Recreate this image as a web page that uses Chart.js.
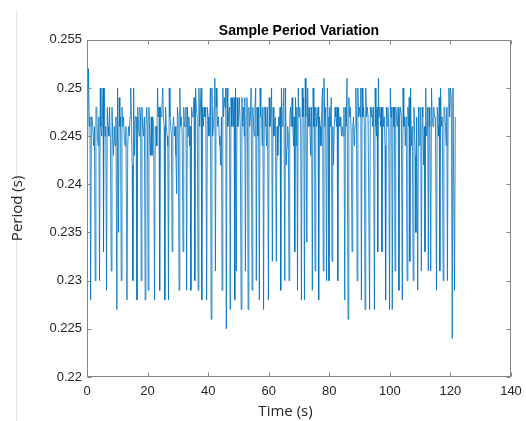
<!DOCTYPE html>
<html>
<head>
<meta charset="utf-8">
<script src="https://cdn.jsdelivr.net/npm/chart.js@4.4.1/dist/chart.umd.min.js"></script>
<style>
  html, body { margin: 0; padding: 0; background: #fff; }
  #wrap { width: 526px; height: 421px; }
</style>
</head>
<body>
<div id="wrap"><canvas id="chart" width="526" height="421"></canvas></div>
<script>
// Sample times (s)
const time = [
  0.25, 0.50, 0.75, 0.98,
  1.20, 1.45, 1.70, 1.95, 2.20, 2.45,
  2.70, 2.95, 3.20, 3.45, 3.70, 3.92,
  4.13, 4.38, 4.62, 4.86, 5.10, 5.30,
  5.45, 5.70, 5.95, 6.20,
  6.45, 6.70, 6.95, 7.20, 7.45, 7.75,
  8.00, 8.25, 8.50, 8.75, 9.00, 9.25, 9.55,
  9.86, 10.10,
  10.40, 10.62, 10.85, 11.08,
  11.30, 11.55, 11.80, 12.05, 12.30, 12.55, 12.85,
  13.20, 13.45, 13.70, 13.95, 14.20, 14.45, 14.70, 14.92,
  15.15, 15.40, 15.65, 15.90, 16.20,
  16.50, 16.75, 17.00, 17.25, 17.45, 17.68,
  17.90, 18.15, 18.40, 18.65, 18.95,
  19.20, 19.45, 19.72, 19.95,
  20.20, 20.45, 20.70, 20.95, 21.20, 21.45, 21.70, 22.00,
  22.30, 22.55, 22.80, 23.05, 23.30, 23.55, 23.78,
  24.00, 24.25, 24.50, 24.75, 25.00, 25.25, 25.48,
  25.70, 25.95, 26.20, 26.45, 26.68,
  26.90, 27.15, 27.40, 27.65, 27.88,
  28.10, 28.35, 28.60, 28.85, 29.10, 29.35,
  29.60, 29.85, 30.12,
  30.40, 30.65, 30.90, 31.15, 31.45,
  31.70, 31.95, 32.20, 32.45, 32.68,
  32.90, 33.15, 33.40, 33.65, 33.85, 34.05,
  34.30, 34.55, 34.80, 35.05, 35.35,
  35.60, 35.85, 36.10, 36.40,
  36.70, 36.95, 37.20, 37.45, 37.68,
  37.90, 38.15, 38.40, 38.65, 38.90, 39.20,
  39.50, 39.75, 40.00, 40.25, 40.50, 40.75,
  41.00, 41.25, 41.50, 41.75, 42.00, 42.20,
  42.40, 42.65, 42.90, 43.15, 43.40, 43.65, 43.90, 44.15, 44.40,
  44.60, 44.85, 45.10, 45.35, 45.60, 45.80,
  46.00, 46.25, 46.50, 46.75, 47.05,
  47.30, 47.55, 47.80, 48.05, 48.30, 48.55,
  48.80, 49.05,
  49.30, 49.55, 49.80, 50.05, 50.30, 50.60,
  50.90, 51.15, 51.40, 51.65, 51.90, 52.10,
  52.30, 52.55, 52.80, 53.00,
  53.20, 53.45, 53.70, 53.95, 54.20,
  54.50, 54.75, 55.00, 55.25, 55.45, 55.70,
  55.90, 56.15, 56.40, 56.65,
  56.90, 57.15, 57.40, 57.65, 57.85, 58.05,
  58.30, 58.55, 58.80, 59.05, 59.30, 59.60,
  59.90, 60.15, 60.40, 60.65, 60.95,
  61.20, 61.45, 61.70, 61.95, 62.20,
  62.50, 62.75, 63.00, 63.25, 63.50, 63.75,
  63.97, 64.20, 64.45, 64.70, 65.00,
  65.30, 65.55, 65.80, 66.05, 66.25, 66.48,
  66.70, 66.95, 67.20, 67.45, 67.70, 67.95, 68.20, 68.40,
  68.60, 68.85, 69.10, 69.30,
  69.50, 69.75, 70.00, 70.25, 70.55,
  70.80, 71.05, 71.30, 71.55,
  71.80, 72.05, 72.30,
  72.60, 72.85, 73.10, 73.35, 73.60, 73.85, 74.15,
  74.40, 74.65, 74.90, 75.10,
  75.30, 75.55, 75.80, 76.05, 76.30,
  76.50, 76.75, 77.00, 77.25, 77.50, 77.78,
  78.00, 78.25, 78.50, 78.80,
  79.10, 79.35, 79.60,
  79.90, 80.15, 80.40, 80.65,
  80.90, 81.15, 81.40, 81.65, 81.90, 82.15, 82.40, 82.60,
  82.80, 83.05, 83.30, 83.55, 83.80, 84.05, 84.30, 84.55, 84.85,
  85.10, 85.35, 85.60, 85.85,
  86.20, 86.45, 86.70, 86.95, 87.25,
  87.50, 87.75, 88.00, 88.25, 88.50, 88.75, 88.98,
  89.20, 89.45, 89.70, 89.95, 90.20, 90.40,
  90.60, 90.85, 91.10, 91.35, 91.58,
  91.80, 92.05, 92.30, 92.55, 92.80, 93.05,
  93.30, 93.55, 93.80, 94.05, 94.30, 94.60,
  94.90, 95.15, 95.40, 95.60, 95.80,
  96.00, 96.20, 96.45, 96.70, 96.95, 97.20,
  97.40, 97.65, 97.90, 98.15, 98.40,
  98.60, 98.85, 99.10, 99.35, 99.62,
  99.90, 100.15, 100.40, 100.60,
  100.80, 101.05, 101.30, 101.50,
  101.70, 101.95, 102.20, 102.45, 102.75,
  103.00, 103.25, 103.50, 103.80,
  104.10, 104.35, 104.60, 104.85, 105.10, 105.40,
  105.70, 105.95, 106.20, 106.40,
  106.60, 106.85, 107.10, 107.40,
  107.70, 107.95, 108.20, 108.40,
  108.60, 108.85,
  109.20, 109.45, 109.70, 109.95, 110.20,
  110.40, 110.65, 110.90, 111.15, 111.40,
  111.60, 111.85, 112.10, 112.35, 112.50,
  112.70, 112.95, 113.20,
  113.50, 113.75, 114.00, 114.25, 114.50, 114.75, 115.05,
  115.40, 115.65, 115.90, 116.15, 116.30,
  116.50, 116.75, 117.00, 117.30,
  117.60, 117.85, 118.10, 118.35, 118.60, 118.80,
  119.00, 119.25, 119.50, 119.75, 120.00, 120.30,
  120.60, 120.85, 121.10, 121.35, 121.60
];

// Measured sample period (s) at each time above
const period = [
  0.245, 0.252, 0.246, 0.247,
  0.228, 0.247, 0.247, 0.247, 0.244, 0.246,
  0.230, 0.248, 0.248, 0.245, 0.244, 0.247,
  0.230, 0.250, 0.246, 0.245, 0.247, 0.250,
  0.233, 0.250, 0.245, 0.246,
  0.229, 0.248, 0.246, 0.245, 0.248, 0.244,
  0.231, 0.248, 0.245, 0.243, 0.246, 0.244, 0.247,
  0.227, 0.250,
  0.235, 0.249, 0.246, 0.247,
  0.230, 0.248, 0.246, 0.247, 0.245, 0.244, 0.246,
  0.228, 0.244, 0.246, 0.245, 0.247, 0.250, 0.246, 0.242,
  0.230, 0.250, 0.243, 0.247, 0.247,
  0.228, 0.248, 0.246, 0.245, 0.248, 0.247,
  0.230, 0.248, 0.246, 0.245, 0.247,
  0.228, 0.246, 0.248, 0.246,
  0.229, 0.248, 0.245, 0.243, 0.247, 0.243, 0.247, 0.246,
  0.228, 0.246, 0.246, 0.244, 0.250, 0.247, 0.248,
  0.229, 0.248, 0.247, 0.248, 0.250, 0.247, 0.246,
  0.228, 0.248, 0.246, 0.245, 0.244,
  0.228, 0.250, 0.247, 0.246, 0.245,
  0.233, 0.246, 0.247, 0.245, 0.246, 0.243,
  0.239, 0.248, 0.247,
  0.229, 0.250, 0.246, 0.247, 0.245,
  0.233, 0.248, 0.246, 0.246, 0.248,
  0.229, 0.248, 0.245, 0.247, 0.244, 0.246,
  0.229, 0.248, 0.247, 0.247, 0.249,
  0.230, 0.250, 0.248, 0.247,
  0.229, 0.250, 0.246, 0.248, 0.250,
  0.228, 0.248, 0.246, 0.248, 0.247, 0.248,
  0.228, 0.248, 0.247, 0.245, 0.246, 0.250,
  0.226, 0.250, 0.245, 0.246, 0.248, 0.251,
  0.231, 0.250, 0.248, 0.246, 0.247, 0.245, 0.244, 0.242, 0.247,
  0.229, 0.250, 0.247, 0.249, 0.248, 0.250,
  0.225, 0.250, 0.246, 0.247, 0.248,
  0.227, 0.249, 0.246, 0.249, 0.246, 0.249,
  0.228, 0.250,
  0.231, 0.249, 0.246, 0.247, 0.249, 0.246,
  0.227, 0.249, 0.246, 0.248, 0.245, 0.249,
  0.231, 0.247, 0.249, 0.246,
  0.227, 0.248, 0.246, 0.247, 0.250,
  0.229, 0.248, 0.246, 0.245, 0.248, 0.250,
  0.230, 0.248, 0.245, 0.248,
  0.228, 0.250, 0.247, 0.247, 0.244, 0.248,
  0.227, 0.248, 0.248, 0.246, 0.244, 0.248,
  0.228, 0.249, 0.246, 0.247, 0.250,
  0.232, 0.248, 0.245, 0.246, 0.247,
  0.232, 0.246, 0.243, 0.247, 0.246, 0.248,
  0.229, 0.250, 0.246, 0.247, 0.250,
  0.230, 0.250, 0.242, 0.244, 0.246, 0.245,
  0.230, 0.247, 0.248, 0.246, 0.249, 0.246, 0.244, 0.247,
  0.233, 0.249, 0.244, 0.248,
  0.229, 0.250, 0.247, 0.248, 0.246,
  0.228, 0.250, 0.247, 0.249,
  0.228, 0.251, 0.247,
  0.234, 0.250, 0.246, 0.248, 0.246, 0.243, 0.248,
  0.229, 0.250, 0.246, 0.248,
  0.231, 0.248, 0.246, 0.247, 0.248,
  0.228, 0.247, 0.246, 0.244, 0.248, 0.250,
  0.231, 0.251, 0.246, 0.248,
  0.230, 0.250, 0.247,
  0.230, 0.248, 0.246, 0.249,
  0.232, 0.246, 0.242, 0.246, 0.248, 0.247, 0.246, 0.248,
  0.230, 0.248, 0.246, 0.247, 0.246, 0.245, 0.246, 0.245, 0.248,
  0.228, 0.248, 0.246, 0.251,
  0.226, 0.249, 0.247, 0.248, 0.245,
  0.233, 0.246, 0.247, 0.244, 0.246, 0.250, 0.247,
  0.230, 0.250, 0.247, 0.248, 0.247, 0.250,
  0.228, 0.250, 0.247, 0.248, 0.246,
  0.227, 0.250, 0.247, 0.248, 0.247, 0.247,
  0.227, 0.248, 0.247, 0.248, 0.246, 0.248,
  0.227, 0.250, 0.246, 0.245, 0.248,
  0.233, 0.251, 0.247, 0.248, 0.246, 0.248,
  0.233, 0.248, 0.246, 0.247, 0.244,
  0.228, 0.248, 0.246, 0.248, 0.246,
  0.227, 0.250, 0.247, 0.248,
  0.227, 0.248, 0.246, 0.248,
  0.231, 0.248, 0.247, 0.246, 0.248,
  0.229, 0.247, 0.248, 0.247,
  0.228, 0.250, 0.246, 0.247, 0.244, 0.247,
  0.230, 0.248, 0.246, 0.249,
  0.232, 0.250, 0.244, 0.246,
  0.230, 0.248, 0.245, 0.243,
  0.235, 0.247,
  0.229, 0.248, 0.244, 0.248, 0.247,
  0.231, 0.248, 0.247, 0.242, 0.246,
  0.233, 0.250, 0.245, 0.246, 0.248,
  0.231, 0.248, 0.246,
  0.231, 0.250, 0.247, 0.246, 0.248, 0.247, 0.247,
  0.229, 0.248, 0.246, 0.245, 0.249,
  0.231, 0.250, 0.246, 0.247,
  0.230, 0.248, 0.248, 0.246, 0.244, 0.248,
  0.230, 0.248, 0.250, 0.247, 0.250, 0.249,
  0.224, 0.250, 0.250, 0.229, 0.247
];

const xTicks = [0, 20, 40, 60, 80, 100, 120, 140];
const yTicks = [0.22, 0.225, 0.23, 0.235, 0.24, 0.245, 0.25, 0.255];

const axisColor = '#262626';
const boxColor = '#858585';
const lineColor = '#0072BD';

// MATLAB-style box with inward ticks on all four sides, plus the x label
const axesBox = {
  id: 'axesBox',
  beforeDraw(chart) {
    const ctx = chart.ctx;
    ctx.save();
    ctx.strokeStyle = '#e4e4e4';
    ctx.lineWidth = 1;
    ctx.beginPath();
    ctx.moveTo(16.5, 10);
    ctx.lineTo(16.5, chart.height);
    ctx.stroke();
    ctx.restore();
  },
  afterDatasetsDraw(chart) {
    const { ctx, chartArea: a, scales: { x, y } } = chart;
    const L = Math.round(a.left) + 0.5, R = Math.round(a.right) - 0.5;
    const T = Math.round(a.top) + 0.5, B = Math.round(a.bottom) - 0.5;
    const len = 4;
    ctx.save();
    ctx.strokeStyle = boxColor;
    ctx.lineWidth = 1;
    ctx.strokeRect(L, T, R - L, B - T);
    ctx.beginPath();
    xTicks.forEach(v => {
      const px = Math.round(x.getPixelForValue(v)) + 0.5;
      ctx.moveTo(px, B); ctx.lineTo(px, B - len);
      ctx.moveTo(px, T); ctx.lineTo(px, T + len);
    });
    yTicks.forEach(v => {
      const py = Math.round(y.getPixelForValue(v)) + 0.5;
      ctx.moveTo(L, py); ctx.lineTo(L + len, py);
      ctx.moveTo(R, py); ctx.lineTo(R - len, py);
    });
    ctx.stroke();

    ctx.fillStyle = axisColor;
    ctx.font = '15px "Open Sans"';
    ctx.textAlign = 'center';
    ctx.textBaseline = 'middle';
    ctx.fillText('Time (s)', 285.5, 412);
    ctx.restore();
  }
};

new Chart(document.getElementById('chart'), {
  type: 'line',
  data: {
    datasets: [{
      data: time.map((t, i) => ({ x: t, y: period[i] })),
      borderColor: lineColor,
      borderWidth: 0.8,
      pointRadius: 0,
      tension: 0,
      fill: false
    }]
  },
  options: {
    responsive: false,
    animation: false,
    layout: { padding: { left: 0, right: 15, top: 0, bottom: 0 } },
    plugins: {
      legend: { display: false },
      tooltip: { enabled: false },
      title: {
        display: true,
        fullSize: false,
        text: 'Sample Period Variation',
        color: '#000',
        font: { family: '"Liberation Sans", Arial, sans-serif', size: 14, weight: 'bold' },
        padding: { top: 23, bottom: 0 }
      }
    },
    scales: {
      x: {
        type: 'linear',
        min: 0,
        max: 140,
        afterFit(scale) {
          scale.height = 44;
          scale.paddingLeft = 0;
          scale.paddingRight = 0;
        },
        afterBuildTicks(scale) { scale.ticks = xTicks.map(v => ({ value: v })); },
        grid: { display: false, drawTicks: false },
        border: { display: false },
        ticks: {
          color: axisColor,
          padding: 7,
          maxRotation: 0,
          font: { family: '"Liberation Sans", Arial, sans-serif', size: 13 }
        }
      },
      y: {
        min: 0.22,
        max: 0.255,
        afterFit(scale) {
          scale.width = 87;
          scale.paddingTop = 0;
          scale.paddingBottom = 0;
        },
        afterBuildTicks(scale) { scale.ticks = yTicks.map(v => ({ value: v })); },
        grid: { display: false, drawTicks: false },
        border: { display: false },
        title: {
          display: true,
          text: 'Period (s)',
          color: axisColor,
          font: { family: '"Open Sans", sans-serif', size: 15 },
          padding: { top: 9, bottom: 0 }
        },
        ticks: {
          color: axisColor,
          padding: 5,
          font: { family: '"Liberation Sans", Arial, sans-serif', size: 13 },
          callback: v => String(parseFloat(v.toFixed(3)))
        }
      }
    }
  },
  plugins: [axesBox]
});
</script>
</body>
</html>
